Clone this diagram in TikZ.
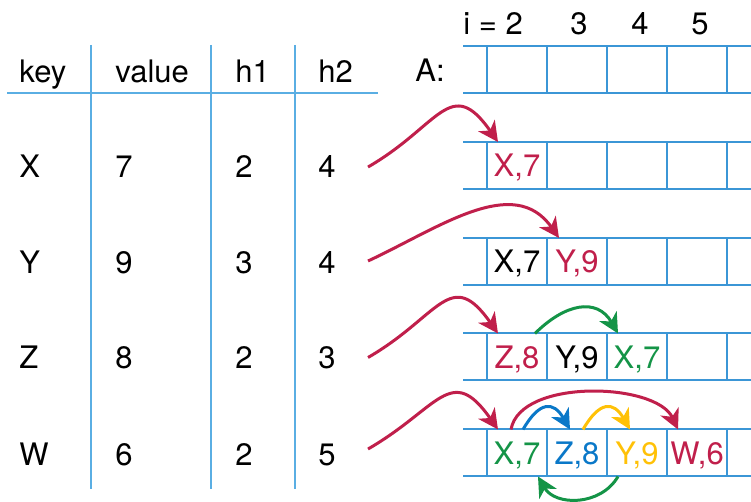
\documentclass[tikz,border=0pt]{standalone}
\usepackage{fontspec}
\setmainfont{TeX Gyre Heros}
\usepackage{tikz}
\usetikzlibrary{arrows.meta,calc}
\usepackage{xcolor}
\definecolor{gridblue}{HTML}{3B96D6}
\definecolor{ruleblue}{HTML}{5AAEE3}
\definecolor{crimson}{HTML}{C01F4B}
\definecolor{leafgreen}{HTML}{149447}
\definecolor{skyblue}{HTML}{0A78C8}
\definecolor{gold}{HTML}{FFC107}

\begin{document}
\begin{tikzpicture}[
  x=0.5pt, y=0.5pt,
  font=\fontsize{15.5}{18}\selectfont,
  tbltext/.style={
    anchor=west,
    inner sep=0pt,
    text height=11.1pt,
    text depth=0pt
  },
  entry/.style={
    inner sep=0pt,
    text height=11.1pt,
    text depth=0pt
  },
  slot/.style={
    draw=gridblue,
    line width=1pt,
    minimum width=30pt,
    minimum height=23.5pt,
    inner sep=0pt,
    outer sep=0pt
  },
  tblrule/.style={
    draw=ruleblue,
    line width=0.75pt
  },
  hop/.style={
    -{Stealth[length=10pt,width=10pt,inset=3pt]},
    line width=1.5pt
  }
]
  \useasboundingbox (0,0) rectangle (751,-502);

  % ----------------------------------------------------
  % KEY TABLE
  % ----------------------------------------------------
  \node[tbltext] (hkey) at (19,-71) {key};
  \node[tbltext] (hval) at (115,-71) {value};
  \node[tbltext] (hone) at (235,-71) {h1};
  \node[tbltext] (htwo) at (318,-71) {h2};

  \foreach \k/\v/\a/\b/\y [count=\r] in {X/7/2/4/166, Y/9/3/4/262, Z/8/2/3/357.5, W/6/2/5/454} {
    \node[tbltext] (key\r) at (19,-\y) {\k};
    \node[tbltext] (val\r) at (115,-\y) {\v};
    \node[tbltext] (one\r) at (235,-\y) {\a};
    \node[tbltext] (two\r) at (318,-\y) {\b};
  }

  \draw[tblrule] (7,-93) -- (378,-93);
  \foreach \x in {91,211,295}
    \draw[tblrule] (\x,-45) -- (\x,-489);

  % ----------------------------------------------------
  % ARRAY A, ONE COPY PER INSERT
  % ----------------------------------------------------
  \node[tbltext] (alabel) at (415,-70) {A:};
  \node[tbltext] (idx2) at (463,-23) {i = 2};
  \node[entry] (idx3) at (579,-23) {3};
  \node[entry] (idx4) at (640,-23) {4};
  \node[entry] (idx5) at (700,-23) {5};

  \foreach \y [count=\r from 0] in {69.5,165.5,261.5,357,453} {
    \foreach \i in {2,...,5}
      \node[slot] (a\r-\i) at ({517+60*(\i-2)},-\y) {};
    \draw[gridblue, line width=1pt] (a\r-2.north west) -- ++(-24,0)
      (a\r-2.south west) -- ++(-24,0);
    \draw[gridblue, line width=1pt] (a\r-5.north east) -- ++(24,0)
      (a\r-5.south east) -- ++(24,0);
  }

  % contents
  \node[entry, text=crimson] (e1x) at (a1-2) {X,7};

  \node[entry] (e2x) at (a2-2) {X,7};
  \node[entry, text=crimson] (e2y) at (a2-3) {Y,9};

  \node[entry, text=crimson] (e3z) at (a3-2) {Z,8};
  \node[entry] (e3y) at (a3-3) {Y,9};
  \node[entry, text=leafgreen] (e3x) at (a3-4) {X,7};

  \node[entry, text=leafgreen] (e4x) at (a4-2) {X,7};
  \node[entry, text=skyblue] (e4z) at (a4-3) {Z,8};
  \node[entry, text=gold] (e4y) at (a4-4) {Y,9};
  \node[entry, text=crimson] (e4w) at (a4-5) {W,6};

  % ----------------------------------------------------
  % HASH ARROWS
  % ----------------------------------------------------
  \draw[hop, crimson] ($(two1.east)+(32,-1)$) to[out=30, in=125, looseness=1.6]
    ($(a1-2.north west)+(11,0)$);

  \draw[hop, crimson] ($(two2.east)+(32,1)$) to[out=25, in=125, looseness=1.05]
    ($(a2-3.north west)+(12,0)$);

  \draw[hop, crimson] ($(two3.east)+(32,0)$) to[out=30, in=125, looseness=1.6]
    ($(a3-2.north west)+(11,0)$);
  \draw[hop, leafgreen] ($(a3-2.north east)+(-12,0)$) to[out=45, in=120, looseness=1.3]
    ($(a3-4.north west)+(11,0)$);

  \draw[hop, crimson] ($(two4.east)+(32,5)$) to[out=30, in=125, looseness=1.6]
    ($(a4-2.north west)+(11,0)$);
  \draw[hop, crimson] ($(a4-2.north)+(-6,0)$) to[out=80, in=115, looseness=0.8]
    ($(a4-5.north west)+(11,0)$);
  \draw[hop, skyblue] ($(a4-2.north)+(6,0)$) to[out=60, in=120, looseness=1.8]
    ($(a4-3.north west)+(23,0)$);
  \draw[hop, gold] ($(a4-3.north east)+(-24,0)$) to[out=60, in=120, looseness=1.8]
    ($(a4-4.north west)+(23,0)$);
  \draw[hop, leafgreen] ($(a4-4.south west)+(11,0)$) to[out=-120, in=-60, looseness=1.1]
    ($(a4-2.south east)+(-9,0)$);

\end{tikzpicture}
\end{document}
